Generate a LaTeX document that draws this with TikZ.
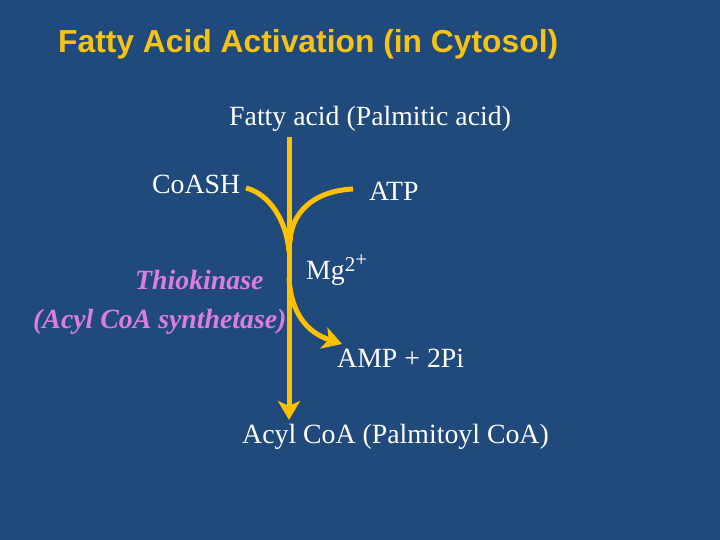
\documentclass[tikz,border=0pt]{standalone}
\usepackage{fontspec}
\setmainfont{Liberation Serif}
\newfontfamily\headfont{Liberation Sans}
\usetikzlibrary{arrows.meta}

\definecolor{slideblue}{RGB}{32,74,124}
\definecolor{arrowgold}{RGB}{255,192,0}
\definecolor{titlegold}{RGB}{245,195,20}
\definecolor{enzviolet}{RGB}{220,125,225}

\tikzset{
    chem/.style={text=white, inner sep=0pt, font=\fontsize{27.8}{32}\selectfont},
    enzyme/.style={text=enzviolet, inner sep=0pt, font=\fontsize{27.8}{32}\selectfont\bfseries\itshape},
    flow/.style={draw=arrowgold, line width=5pt},
    flowtip/.style={flow, -{Stealth[length=19pt,width=22pt,inset=5pt]}}
}

\begin{document}
\begin{tikzpicture}[x=1pt,y=-1pt]

        %background
        \fill[slideblue] (0,0) rectangle (720,540);
        \useasboundingbox (0,0) rectangle (720,540);

        %title
        \node[anchor=west, inner sep=0pt, text=titlegold, font=\headfont\bfseries\fontsize{31.8}{36}\selectfont] (title) at (58,44) {Fatty Acid Activation (in Cytosol)};

        %substrates
        \node[chem, anchor=west] (fatty) at (229,119) {Fatty acid (Palmitic acid)};
        \node[chem, anchor=west] (coash) at (152,184) {CoASH};
        \node[chem, anchor=west] (atp)   at (369,191) {ATP};
        \node[chem, anchor=west] (mg)    at (306,270) {Mg{\fontsize{21}{21}\selectfont\raisebox{8pt}{2}\raisebox{13pt}{+}}};

        %enzyme
        \node[enzyme, anchor=west] (enz)  at (135,280) {Thiokinase};
        \node[enzyme, anchor=west] (enz2) at (33,322)  {(Acyl CoA synthetase)};

        %products
        \node[chem, anchor=west] (amp)  at (337,358) {AMP + 2Pi};
        \node[chem, anchor=west] (acyl) at (242,437) {Acyl CoA (Palmitoyl CoA)};

        %junction points
        \coordinate (top)   at (289,137);
        \coordinate (bot)   at (289,420);
        \coordinate (coin)  at (246,188);
        \coordinate (atpin) at (353,189);
        \coordinate (ampout) at (342,344);

        %main line
        \draw[flowtip] (top) -- (bot);

        %CoASH in
        \draw[flow] (coin) .. controls (270,194) and (287,222) .. (289,252);
        %ATP in
        \draw[flow] (atpin) .. controls (312,191) and (291,214) .. (290,242);
        %AMP out
        \draw[flowtip] (289,278) .. controls (291,312) and (306,332) .. (ampout);

    \end{tikzpicture}
\end{document}
